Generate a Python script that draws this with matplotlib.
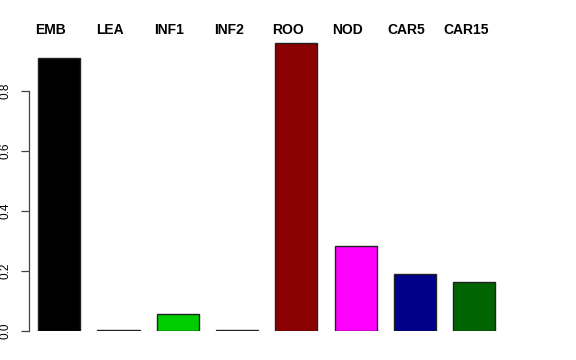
import numpy as np
import matplotlib
matplotlib.use("Agg")
import matplotlib.pyplot as plt

# tissue fractions
tissues = ["EMB", "LEA", "INF1", "INF2", "ROO", "NOD", "CAR5", "CAR15"]
values = [0.911, 0.002, 0.058, 0.002, 0.959, 0.283, 0.189, 0.162]
colors = ["#000000", "#FF0000", "#00CD00", "#0000FF",
          "#8B0000", "#FF00FF", "#00008B", "#006400"]
yticks = [0.0, 0.2, 0.4, 0.6, 0.8]

plt.rcParams['font.family'] = ['Liberation Sans', 'DejaVu Sans']

W, H = 576, 360
fig = plt.figure(figsize=(W / 100, H / 100), dpi=100)

# plot area in pixels: y axis line at x=29, zero at y=331, 1.0 at y=31
left_px, right_px = 29, 560
bottom_px, top_px = 331, 31
ax = fig.add_axes([left_px / W, (H - bottom_px) / H,
                   (right_px - left_px) / W, (bottom_px - top_px) / H])

first_c, step = 59.2, 59.3  # bar centre spacing in pixels
ax.set_xlim((left_px - first_c) / step, (right_px - first_c) / step)
ax.set_ylim(0, 1.0)

x = np.arange(len(tissues))
ax.bar(x, values, width=0.71, color=colors, edgecolor="#222222", linewidth=1.0)

# names on top, shifted slightly left of the bar centres
for i, name in enumerate(tissues):
    ax.text(i - 0.145, 1.005, name, ha="center", va="center",
            fontsize=10, fontweight="bold", clip_on=False)

for s in ["top", "right", "bottom"]:
    ax.spines[s].set_visible(False)
ax.spines["left"].set_bounds(0, 0.8)
ax.spines["left"].set_color("#444444")
ax.spines["left"].set_linewidth(0.9)

ax.set_xticks([])
ax.set_yticks(yticks)
ax.set_yticklabels([f"{v:.1f}" for v in yticks], rotation=90, va="center",
                   fontsize=8.5)
ax.tick_params(axis="y", length=5.8, width=0.9, color="#444444", pad=6.5)

fig.savefig("out.png", dpi=100)
